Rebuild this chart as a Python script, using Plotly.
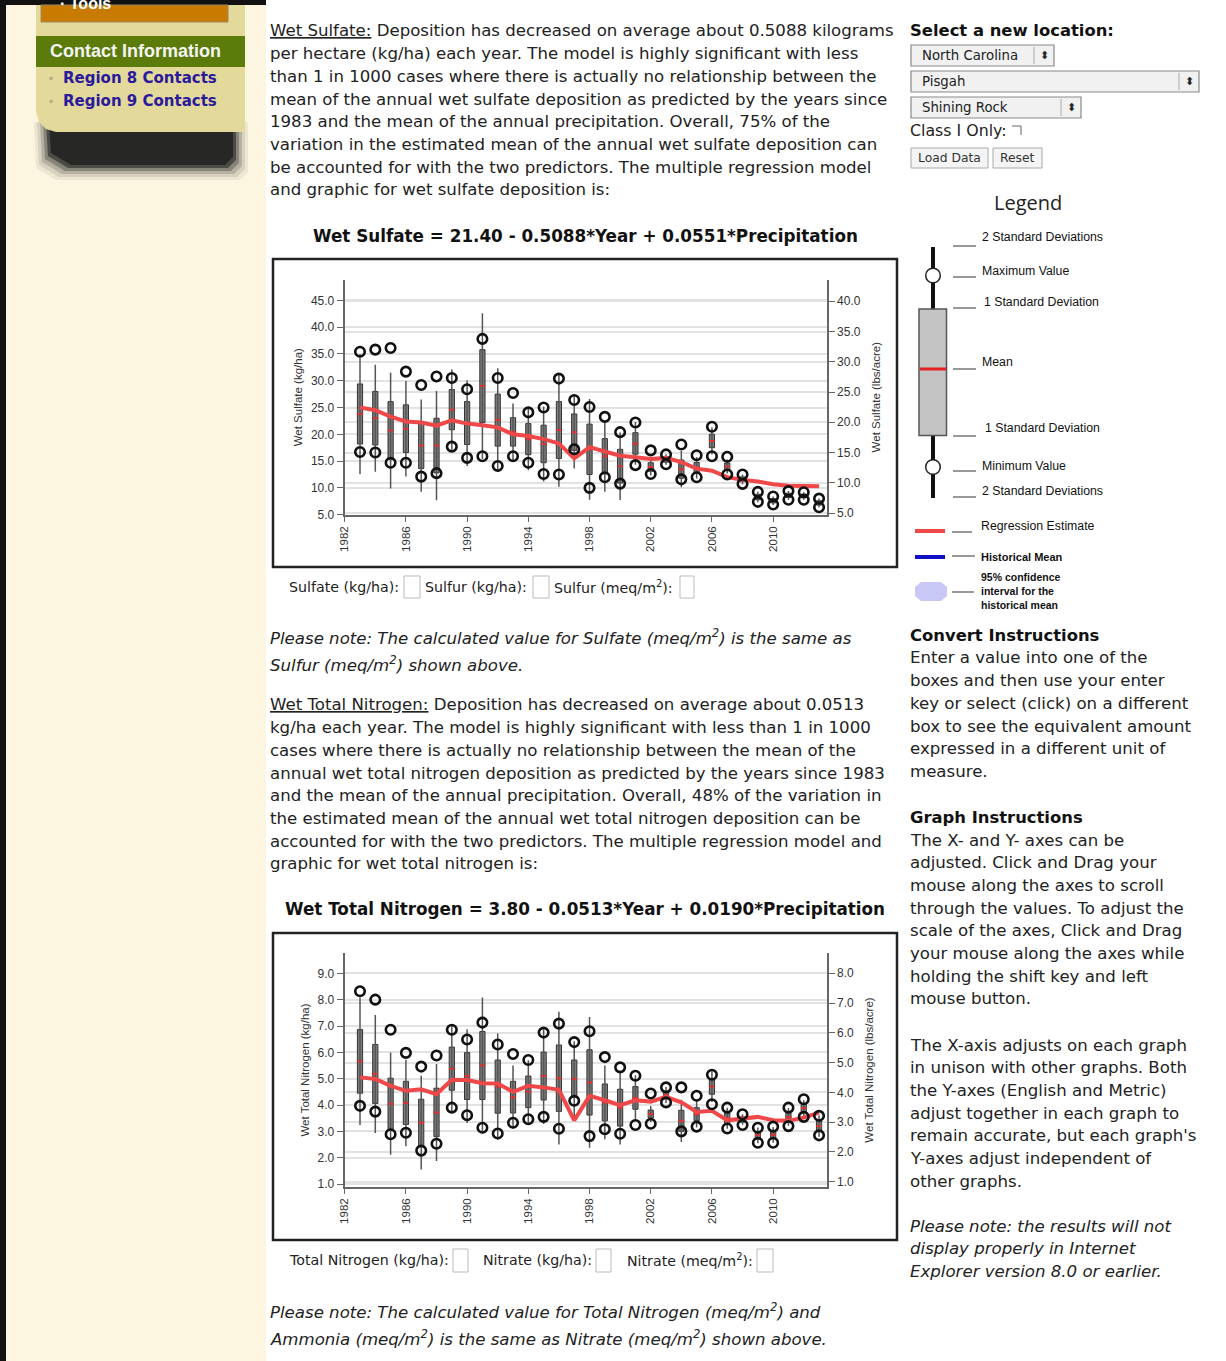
import plotly.graph_objects as go

W, H = 1226, 1361

# ---- data (kg/ha), one value per year 1983-2013 ----
years = list(range(1983, 2014))

sulf_mean = [23.8, 23.0, 20.7, 21.05, 17.9, 17.9, 24.6, 22.1, 29.0, 22.65,
             20.45, 19.1, 18.2, 20.8, 20.4, 17.2, 15.9, 14.05, 18.3, 13.9,
             15.3, 13.5, 13.75, 18.75, 14.0, 11.6, 8.3, 7.6, 8.6, 8.5, 7.2]
sulf_sd = [5.6, 5.0, 5.4, 4.45, 4.3, 5.1, 3.75, 4.0, 6.8, 4.85,
           2.65, 2.9, 3.5, 5.3, 3.4, 4.7, 3.3, 3.15, 2.0, 0.8,
           0.5, 1.7, 1.0, 1.25, 0.65, 0.45, 0.5, 0.4, 0.4, 0.35, 0.4]
sulf_max = [35.4, 35.8, 36.1, 31.7, 29.2, 30.8, 30.5, 28.4, 37.8, 30.5,
            27.7, 24.1, 25.0, 30.4, 26.4, 25.1, 23.25, 20.4, 22.2, 17.0,
            16.25, 18.1, 16.1, 21.4, 15.8, 12.5, 9.25, 8.4, 9.4, 9.2, 8.0]
sulf_min = [16.7, 16.6, 14.7, 14.7, 12.1, 12.75, 17.7, 15.6, 15.9, 14.1,
            15.9, 14.7, 12.6, 12.5, 17.2, 10.0, 12.0, 10.8, 14.25, 12.6,
            14.4, 11.6, 12.0, 15.9, 12.5, 10.75, 7.4, 6.9, 7.8, 7.8, 6.4]
sulf_reg = [25.0, 24.5, 23.3, 22.4, 22.2, 21.6, 22.6, 22.0, 21.7, 21.3,
            20.0, 19.7, 19.1, 18.3, 15.5, 17.6, 16.8, 16.0, 15.7, 15.4,
            15.6, 14.8, 13.6, 13.2, 12.0, 11.5, 11.2, 10.7, 10.4, 10.3, 10.3]

nit_mean = [5.66, 5.18, 4.05, 4.08, 3.33, 3.72, 5.38, 5.1, 5.5, 4.7,
            4.3, 4.5, 5.1, 5.02, 5.0, 4.86, 4.1, 3.9, 4.27, 3.66,
            4.38, 3.4, 3.65, 4.7, 3.5, 3.45, 2.85, 2.87, 3.55, 3.88, 3.2]
nit_sd = [1.21, 1.12, 0.97, 0.82, 0.89, 0.92, 0.82, 0.89, 1.29, 1.01,
          0.6, 0.6, 0.91, 1.26, 0.71, 1.24, 0.7, 0.7, 0.43, 0.15,
          0.15, 0.4, 0.25, 0.29, 0.2, 0.1, 0.15, 0.15, 0.17, 0.15, 0.2]
nit_max = [8.32, 8.0, 6.86, 5.98, 5.46, 5.88, 6.86, 6.49, 7.13, 6.3,
           5.94, 5.71, 6.75, 7.09, 6.39, 6.8, 5.82, 5.43, 5.11, 4.44,
           4.67, 4.67, 4.35, 5.15, 3.9, 3.65, 3.14, 3.18, 3.9, 4.22, 3.59]
nit_min = [3.97, 3.75, 2.89, 2.95, 2.27, 2.53, 3.9, 3.61, 3.14, 2.92,
           3.33, 3.46, 3.55, 3.1, 4.16, 2.82, 3.08, 2.91, 3.24, 3.29,
           4.1, 3.0, 3.18, 4.03, 3.11, 3.24, 2.57, 2.57, 3.2, 3.55, 2.85]
nit_reg = [5.05, 4.99, 4.73, 4.54, 4.6, 4.41, 4.96, 4.95, 4.83, 4.82,
           4.5, 4.73, 4.67, 4.58, 3.42, 4.35, 4.18, 4.0, 4.18, 4.13,
           4.31, 4.1, 3.74, 3.78, 3.42, 3.5, 3.55, 3.42, 3.4, 3.52, 3.71]

year_ticks = list(range(1982, 2011, 4))

TXT = "DejaVu Sans"
AX = "Liberation Sans"
BODY = 16.6   # paragraph text size

def px(x):
    return x / W


def py(y):
    return 1 - y / H


shapes = []
annotations = []


def rect(x0, y0, x1, y1, fill="rgba(0,0,0,0)", line="rgba(0,0,0,0)", lw=0, layer="below", opacity=1):
    shapes.append(dict(type="rect", xref="paper", yref="paper",
                       x0=px(x0), x1=px(x1), y0=py(y1), y1=py(y0),
                       fillcolor=fill, line=dict(color=line, width=lw),
                       layer=layer, opacity=opacity))


def seg(x0, y0, x1, y1, color, lw, layer="above"):
    shapes.append(dict(type="line", xref="paper", yref="paper",
                       x0=px(x0), x1=px(x1), y0=py(y0), y1=py(y1),
                       line=dict(color=color, width=lw), layer=layer))


def circ(cx, cy, r, fill, line, lw):
    shapes.append(dict(type="circle", xref="paper", yref="paper",
                       x0=px(cx - r), x1=px(cx + r), y0=py(cy + r), y1=py(cy - r),
                       fillcolor=fill, line=dict(color=line, width=lw), layer="above"))


def path(points, fill, line="rgba(0,0,0,0)", lw=0, layer="below", opacity=1):
    d = "M " + " L ".join(f"{px(x):.5f},{py(y):.5f}" for x, y in points) + " Z"
    shapes.append(dict(type="path", xref="paper", yref="paper", path=d,
                       fillcolor=fill, line=dict(color=line, width=lw),
                       layer=layer, opacity=opacity))


def text(x, y, s, size=BODY, color="#222", family=TXT, anchor="left"):
    annotations.append(dict(xref="paper", yref="paper", x=px(x), y=py(y),
                            text=s, showarrow=False, xanchor=anchor, yanchor="middle",
                            font=dict(family=family, size=size, color=color)))


# ---- page background ----
rect(0, 0, 266, H, fill="#FCF6E0")
rect(0, 0, 6, H, fill="#111")
rect(0, 0, 266, 5, fill="#111")

# sidebar shadow (a few soft layers)
for grow, op in [(10, 0.07), (7, 0.1), (4, 0.18), (1, 0.3), (-2, 0.55), (-5, 0.8)]:
    path([(44 - grow, 122), (238 + grow, 122), (238 + grow, 162 + grow), (230 + grow, 170 + grow),
          (66 - grow, 170 + grow), (46 - grow, 158 + grow)], "#1e1e1e", opacity=op)
# sidebar panel with rounded bottom-left corner
corner = [(36, 5), (245, 5), (245, 132), (56, 132), (46, 129), (39, 122), (36, 112)]
path(corner, "#E3D99B")
rect(41, 5, 228, 22, fill="#C97A00", line="#9a8a60", lw=1)
text(58, 4, "<b>· Tools</b>", size=16, color="#fff", family=AX)
rect(36, 36, 245, 67, fill="#5B7B0B")
text(48, 51, "<b>Contact Information</b>", size=18, color="#f4f4f4", family=AX)
text(47, 78, "◦", size=12, color="#555", family=AX)
text(47, 101, "◦", size=12, color="#555", family=AX)
text(61, 78, "<b>Region 8 Contacts</b>", size=15, color="#2A1A9C", family=TXT)
text(61, 101, "<b>Region 9 Contacts</b>", size=15, color="#2A1A9C", family=TXT)

# ---- main text: sulfate ----
sulf_lines = [
    "<u>Wet Sulfate:</u> Deposition has decreased on average about 0.5088 kilograms",
    "per hectare (kg/ha) each year. The model is highly significant with less",
    "than 1 in 1000 cases where there is actually no relationship between the",
    "mean of the annual wet sulfate deposition as predicted by the years since",
    "1983 and the mean of the annual precipitation. Overall, 75% of the",
    "variation in the estimated mean of the annual wet sulfate deposition can",
    "be accounted for with the two predictors. The multiple regression model",
    "and graphic for wet sulfate deposition is:",
]
for i, s in enumerate(sulf_lines):
    text(268, 31 + i * 22.7, s)

text(585, 236, "<b>Wet Sulfate = 21.40 - 0.5088*Year + 0.0551*Precipitation</b>", size=16.8, color="#111", anchor="center")
rect(273, 259, 897, 567, fill="#fff", line="#222", lw=2.5)

text(287, 587, "Sulfate (kg/ha):", size=14.2)
rect(404, 576, 420, 598, fill="#fff", line="#bbb", lw=1)
text(423, 587, "Sulfur (kg/ha):", size=14.2)
rect(533, 576, 549, 598, fill="#fff", line="#bbb", lw=1)
text(552, 587, "Sulfur (meq/m<sup>2</sup>):", size=14.2)
rect(680, 576, 694, 598, fill="#fff", line="#bbb", lw=1)

text(268, 637, "<i>Please note: The calculated value for Sulfate (meq/m<sup>2</sup>) is the same as</i>")
text(268, 664, "<i>Sulfur (meq/m<sup>2</sup>) shown above.</i>")

# ---- main text: nitrogen ----
nit_lines = [
    "<u>Wet Total Nitrogen:</u> Deposition has decreased on average about 0.0513",
    "kg/ha each year. The model is highly significant with less than 1 in 1000",
    "cases where there is actually no relationship between the mean of the",
    "annual wet total nitrogen deposition as predicted by the years since 1983",
    "and the mean of the annual precipitation. Overall, 48% of the variation in",
    "the estimated mean of the annual wet total nitrogen deposition can be",
    "accounted for with the two predictors. The multiple regression model and",
    "graphic for wet total nitrogen is:",
]
for i, s in enumerate(nit_lines):
    text(268, 705 + i * 22.7, s)

text(585, 909, "<b>Wet Total Nitrogen = 3.80 - 0.0513*Year + 0.0190*Precipitation</b>", size=16.8, color="#111", anchor="center")
rect(273, 933, 897, 1240, fill="#fff", line="#222", lw=2.5)

text(287, 1260, "Total Nitrogen (kg/ha):", size=14.2)
rect(453, 1249, 468, 1272, fill="#fff", line="#bbb", lw=1)
text(481, 1260, "Nitrate (kg/ha):", size=14.2)
rect(596, 1249, 611, 1272, fill="#fff", line="#bbb", lw=1)
text(625, 1260, "Nitrate (meq/m<sup>2</sup>):", size=14.2)
rect(757, 1249, 773, 1272, fill="#fff", line="#bbb", lw=1)

text(268, 1311, "<i>Please note: The calculated value for Total Nitrogen (meq/m<sup>2</sup>) and</i>")
text(268, 1338, "<i>Ammonia (meq/m<sup>2</sup>) is the same as Nitrate (meq/m<sup>2</sup>) shown above.</i>")

# ---- right column: location form ----
text(908, 31, "<b>Select a new location:</b>", size=16.4, color="#111")
for (x0, y0, x1, label) in [(911, 45, 1054, "North Carolina"), (911, 71, 1199, "Pisgah"), (911, 97, 1081, "Shining Rock")]:
    rect(x0, y0, x1, y0 + 21, fill="#f1f1f1", line="#8a8a8a", lw=1.2)
    seg(x1 - 20, y0 + 2, x1 - 20, y0 + 19, "#aaa", 1)
    text(920, y0 + 10.5, label, size=13.3, color="#222")
    text(x1 - 10, y0 + 10.5, "⬍", size=11, color="#222", anchor="center")
text(908, 131, "Class I Only:", size=15.8)
seg(1012, 126, 1021, 126, "#666", 1)
seg(1021, 126, 1021, 135, "#666", 1)
rect(911, 148, 988, 168, fill="#f4f4f4", line="#aaa", lw=1)
text(949.5, 158, "Load Data", size=12.3, color="#333", anchor="center")
rect(993, 148, 1042, 168, fill="#f4f4f4", line="#aaa", lw=1)
text(1017.5, 158, "Reset", size=12.3, color="#333", anchor="center")

# ---- right column: legend graphic ----
text(1028, 202, "Legend", size=20, color="#222", family="Open Sans", anchor="center")
seg(933, 247, 933, 498, "#111", 4)
rect(919, 309, 946.5, 435.5, fill="#C4C4C4", line="#555", lw=1.5, layer="above")
seg(920, 369, 946, 369, "#E42020", 3)
circ(933, 275.5, 7.3, "#fff", "#222", 1.5)
circ(933, 467, 7.3, "#fff", "#222", 1.5)
legend_rows = [
    (236.5, 246, 980, "2 Standard Deviations"),
    (270.5, 277, 980, "Maximum Value"),
    (302, 308, 982, "1 Standard Deviation"),
    (361.5, 369, 980, "Mean"),
    (428, 436, 983, "1 Standard Deviation"),
    (466, 471, 980, "Minimum Value"),
    (491, 497, 980, "2 Standard Deviations"),
]
LEG = "Liberation Sans"
for ty, ly, tx, label in legend_rows:
    seg(953, ly, 976, ly, "#777", 1.5)
    text(tx, ty, label, size=12.3, color="#111", family=LEG)
seg(915, 531, 945, 531, "#F04848", 4)
seg(952, 532, 972, 532, "#777", 1.5)
text(979, 526, "Regression Estimate", size=12.3, color="#111", family=LEG)
seg(915, 557, 945, 557, "#1010C8", 4)
seg(952, 556, 975, 556, "#777", 1.5)
text(979, 557, "<b>Historical Mean</b>", size=11, color="#111", family=LEG)
path([(921, 582), (941, 582), (947, 587), (947, 596), (941, 601), (921, 601), (915, 596), (915, 587)],
     "#C8C8F6", layer="above")
seg(952, 592, 974, 592, "#777", 1.5)
text(979, 577, "<b>95% confidence</b>", size=10.5, color="#111", family=LEG)
text(979, 591, "<b>interval for the</b>", size=10.5, color="#111", family=LEG)
text(979, 605, "<b>historical mean</b>", size=10.5, color="#111", family=LEG)

# ---- right column: instructions ----
text(908, 635, "<b>Convert Instructions</b>", size=16.4, color="#111")
conv = ["Enter a value into one of the", "boxes and then use your enter",
        "key or select (click) on a different", "box to see the equivalent amount",
        "expressed in a different unit of", "measure."]
for i, s in enumerate(conv):
    text(908, 658 + i * 22.7, s)
text(908, 817, "<b>Graph Instructions</b>", size=16.4, color="#111")
graph_ins = ["The X- and Y- axes can be", "adjusted. Click and Drag your",
             "mouse along the axes to scroll", "through the values. To adjust the",
             "scale of the axes, Click and Drag", "your mouse along the axes while",
             "holding the shift key and left", "mouse button."]
for i, s in enumerate(graph_ins):
    text(908, 840 + i * 22.7, s)
unison = ["The X-axis adjusts on each graph", "in unison with other graphs. Both",
          "the Y-axes (English and Metric)", "adjust together in each graph to",
          "remain accurate, but each graph's", "Y-axes adjust independent of",
          "other graphs."]
for i, s in enumerate(unison):
    text(908, 1045 + i * 22.7, s)
for i, s in enumerate(["Please note: the results will not", "display properly in Internet",
                       "Explorer version 8.0 or earlier."]):
    text(908, 1226 + i * 22.7, f"<i>{s}</i>")


# ---- the two box charts ----
def add_chart(fig, xa, ya, ya2, mean, sd, vmax, vmin, reg):
    wx, wy = [], []
    for yr, m, s in zip(years, mean, sd):
        wx += [yr, yr, None]
        wy += [m - 2 * s, m + 2 * s, None]
    fig.add_trace(go.Scatter(x=wx, y=wy, mode="lines", xaxis=xa, yaxis=ya,
                             line=dict(color="#555", width=1.5), hoverinfo="skip"))
    fig.add_trace(go.Bar(x=years, y=[2 * s for s in sd], base=[m - s for m, s in zip(mean, sd)],
                         width=0.34, xaxis=xa, yaxis=ya,
                         marker=dict(color="#7d7d7d", line=dict(color="#333", width=1))))
    fig.add_trace(go.Scatter(x=years, y=mean, mode="markers", xaxis=xa, yaxis=ya,
                             marker=dict(symbol="line-ew", size=4, color="#E03030",
                                         line=dict(color="#E03030", width=2))))
    fig.add_trace(go.Scatter(x=years, y=reg, mode="lines", xaxis=xa, yaxis=ya,
                             line=dict(color="#F04848", width=4)))
    for v in (vmax, vmin):
        fig.add_trace(go.Scatter(x=years, y=v, mode="markers", xaxis=xa, yaxis=ya,
                                 marker=dict(symbol="circle-open", size=9.5, color="#111",
                                             line=dict(color="#111", width=2.6))))
    fig.add_trace(go.Scatter(x=[None], y=[None], xaxis=xa, yaxis=ya2, mode="lines"))


fig = go.Figure()
add_chart(fig, "x", "y", "y2", sulf_mean, sulf_sd, sulf_max, sulf_min, sulf_reg)
add_chart(fig, "x2", "y3", "y4", nit_mean, nit_sd, nit_max, nit_min, nit_reg)

xdom = [px(344.7), px(826.7)]
dom_s = [py(514.7), py(279.7)]
dom_n = [py(1186.7), py(953.3)]

tickfont = dict(family=AX, size=12, color="#333")
titlefont = dict(family=AX, size=11.5, color="#333")


def xaxis(anchor):
    return dict(domain=xdom, anchor=anchor, range=[1982, 2013.5], tickvals=year_ticks,
                tickangle=-90, tickfont=dict(family=AX, size=11.5, color="#333"),
                showline=True, linecolor="#666", linewidth=2, ticks="outside",
                ticklen=5, tickcolor="#666", showgrid=False, zeroline=False,
                automargin=False, fixedrange=True)


def yaxis(dom, anchor, rng, dtick, title, side="left", overlaying=None, standoff=6):
    d = dict(domain=dom, anchor=anchor, range=rng, dtick=dtick, tick0=0, tickformat=".1f",
             side=side, tickfont=tickfont, showline=True, linecolor="#666", linewidth=2,
             ticks="outside", ticklen=6, tickcolor="#666", showgrid=True,
             gridcolor="#e2e2e2", gridwidth=2, zeroline=False, automargin=False,
             title=dict(text=title, font=titlefont, standoff=standoff), fixedrange=True)
    if overlaying:
        d["overlaying"] = overlaying
    return d


fig.update_layout(
    width=W, height=H,
    margin=dict(l=0, r=0, t=0, b=0),
    template="none",
    paper_bgcolor="#ffffff",
    plot_bgcolor="#ffffff",
    showlegend=False,
    xaxis=xaxis("y"),
    yaxis=yaxis(dom_s, "x", [5, 48.85], 5, "Wet Sulfate (kg/ha)"),
    yaxis2=yaxis(dom_s, "x", [4.72, 43.57], 5, "Wet Sulfate (lbs/acre)", side="right", overlaying="y", standoff=12),
    xaxis2=xaxis("y3"),
    yaxis3=yaxis(dom_n, "x2", [0.9, 9.76], 1, "Wet Total Nitrogen (kg/ha)"),
    yaxis4=yaxis(dom_n, "x2", [0.83, 8.67], 1, "Wet Total Nitrogen (lbs/acre)", side="right", overlaying="y3", standoff=12),
    shapes=shapes,
    annotations=annotations,
)

fig.write_html("out.html", config={"displayModeBar": False},
               post_script="document.body.style.margin='0';")
